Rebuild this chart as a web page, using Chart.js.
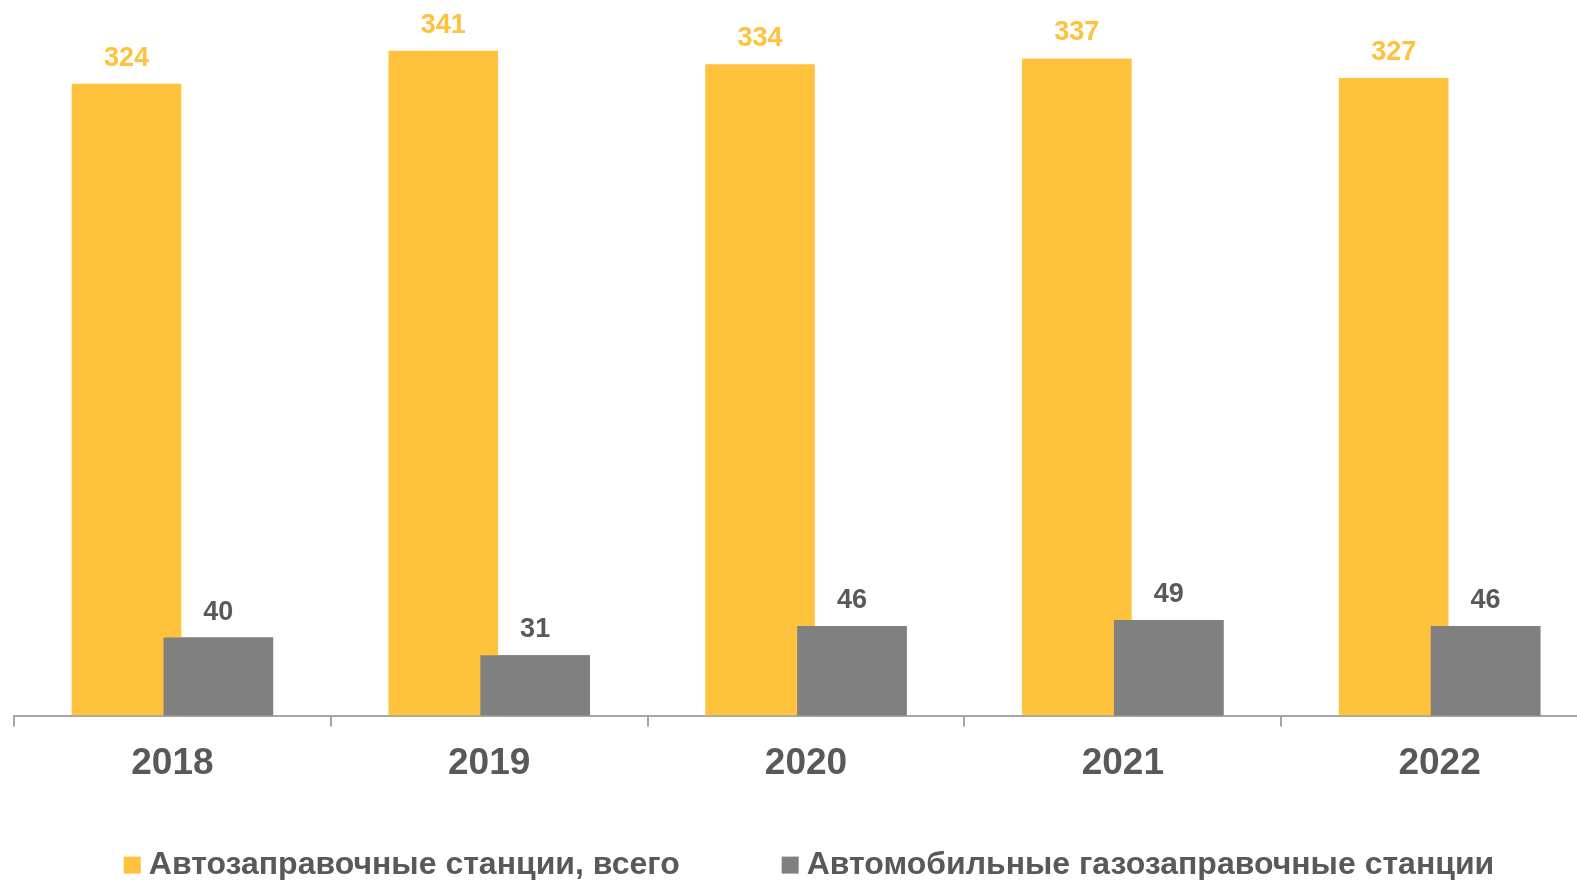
<!DOCTYPE html>
<html>
<head>
<meta charset="utf-8">
<script src="https://cdn.jsdelivr.net/npm/chart.js@4"></script>
<style>
    html, body { margin: 0; padding: 0; background: #fff; overflow: hidden; }
    #wrap { width: 1600px; height: 880px; }
</style>
</head>
<body>
<div id="wrap"><canvas id="myChart" width="1600" height="880"></canvas></div>
<script>
const years = ['2018', '2019', '2020', '2021', '2022'];
const azsTotal = [324, 341, 334, 337, 327];
const agzs = [40, 31, 46, 49, 46];
const seriesNames = ['Автозаправочные станции, всего', 'Автомобильные газозаправочные станции'];

const yellow = '#FFC23D';
const grey = '#808080';
const textGrey = '#595959';
const fontFamily = '"Liberation Sans", Arial, sans-serif';

// серые столбики поверх желтых + подписи значений
const valueLabels = {
    id: 'valueLabels',
    afterDatasetsDraw(chart) {
        let ctx = chart.ctx;
        chart.getDatasetMeta(1).data.forEach(function (bar) {
            bar.draw(ctx);
        });
        ctx.save();
        ctx.font = 'bold 27px ' + fontFamily;
        ctx.textAlign = 'center';
        ctx.textBaseline = 'alphabetic';
        chart.data.datasets.forEach(function (ds, i) {
            let meta = chart.getDatasetMeta(i);
            ctx.fillStyle = i == 0 ? yellow : textGrey;
            meta.data.forEach(function (bar, j) {
                ctx.fillText(ds.data[j], bar.x, bar.y - 18);
            });
        });
        ctx.restore();
    }
};

// легенда внизу
const bottomLegend = {
    id: 'bottomLegend',
    afterDraw(chart) {
        let ctx = chart.ctx;
        let box = 17, gapText = 8, gapItem = 102;
        ctx.save();
        ctx.font = 'bold 32px ' + fontFamily;
        let widths = chart.data.datasets.map(ds => ctx.measureText(ds.label).width);
        let total = 0;
        widths.forEach(function (w, i) {
            total += box + gapText + w + (i > 0 ? gapItem : 0);
        });
        let x = (chart.chartArea.left + chart.chartArea.right) / 2 + 3 - total / 2;
        let baseline = chart.chartArea.bottom + 158;
        ctx.textBaseline = 'alphabetic';
        ctx.textAlign = 'left';
        chart.data.datasets.forEach(function (ds, i) {
            ctx.fillStyle = ds.backgroundColor;
            ctx.fillRect(x, baseline - box, box, box);
            ctx.fillStyle = textGrey;
            ctx.fillText(ds.label, x + box + gapText, baseline);
            x += box + gapText + widths[i] + gapItem;
        });
        ctx.restore();
    }
};

let myChart = new Chart('myChart', {
    type: 'bar',
    data: {
        labels: years,
        datasets: [{
            label: seriesNames[0],
            data: azsTotal,
            backgroundColor: yellow,
            categoryPercentage: 0.58,
            barPercentage: 1.193
        },
        {
            label: seriesNames[1],
            data: agzs,
            backgroundColor: grey,
            categoryPercentage: 0.58,
            barPercentage: 1.193
        }]
    },
    options: {
        responsive: false,
        animation: false,
        layout: { padding: { left: 14, right: 2, top: 0, bottom: 79 } },
        scales: {
            x: {
                offset: true,
                grid: {
                    offset: true,
                    drawOnChartArea: false,
                    tickLength: 11,
                    color: '#A6A6A6',
                    lineWidth: 2
                },
                border: { color: '#A6A6A6', width: 2 },
                ticks: {
                    padding: 15,
                    color: textGrey,
                    font: { family: fontFamily, size: 37, weight: 'bold' }
                }
            },
            y: {
                display: false,
                min: 0,
                max: 367
            }
        },
        plugins: {
            tooltip: { enabled: false },
            legend: { display: false }
        }
    },
    plugins: [valueLabels, bottomLegend]
});
</script>
</body>
</html>
